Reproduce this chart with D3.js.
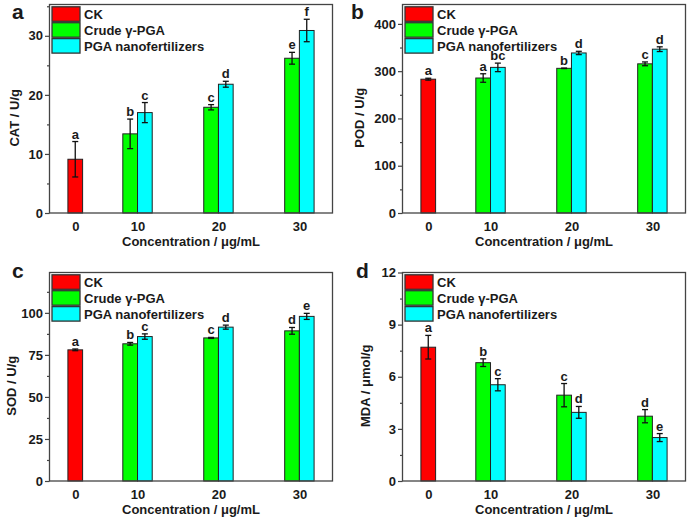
<!DOCTYPE html>
<html>
<head>
<meta charset="utf-8">
<script src="https://cdn.jsdelivr.net/npm/d3@7"></script>
<style>
  body { margin: 0; background: #fff; }
  svg text { font-family: "Liberation Sans", Arial, sans-serif; font-weight: bold; fill: #1a1a1a; }
</style>
</head>
<body>
<div id="chart"></div>
<script>
//categories and legend
var concentrations = [0, 10, 20, 30];
var seriesNames = ["CK", "Crude γ-PGA", "PGA nanofertilizers"];
var seriesColors = ["#ff0000", "#00ff00", "#00ffff"];

//CAT (a) - [CK], [Crude 10,20,30], [PGA 10,20,30]
var catMean = [[9.1], [13.4, 17.9, 26.2], [17.0, 21.8, 30.9]];
var catSd = [[3.0], [2.5, 0.45, 1.0], [1.7, 0.5, 1.9]];
var catSig = [["a"], ["b", "c", "e"], ["c", "d", "f"]];

//POD (b)
var podMean = [[283], [285.5, 306, 315.5], [308, 338.5, 346.5]];
var podSd = [[2], [9, 0.5, 4], [9, 3.5, 5]];
var podSig = [["a"], ["a", "b", "c"], ["bc", "d", "d"]];

//SOD (c)
var sodMean = [[78.0], [81.6, 85.1, 89.3], [85.9, 91.5, 97.9]];
var sodSd = [[0.5], [0.8, 0.3, 2.0], [1.6, 1.2, 1.8]];
var sodSig = [["a"], ["b", "c", "d"], ["c", "d", "e"]];

//MDA (d)
var mdaMean = [[7.7], [6.81, 4.94, 3.73], [5.54, 3.95, 2.50]];
var mdaSd = [[0.68], [0.22, 0.67, 0.38], [0.35, 0.34, 0.23]];
var mdaSig = [["a"], ["b", "c", "d"], ["c", "d", "e"]];

//y axes
var catTicks = [0, 10, 20, 30];
var podTicks = [0, 100, 200, 300, 400];
var sodTicks = [0, 25, 50, 75, 100];
var mdaTicks = [0, 3, 6, 9, 12];

var svg = d3.select("#chart").append("svg")
    .attr("width", 688)
    .attr("height", 520);

var w = 283, h = 208.5, bw = 14.7;

function panel(opt) {
  var g = svg.append("g")
      .attr("transform", "translate(" + opt.left + "," + opt.top + ")");

  //x scale: concentration -> group center
  var x = d3.scaleLinear()
      .domain([0, 10, 30])
      .range([0.091 * w, 0.311 * w, 0.883 * w]);
  var y = d3.scaleLinear().domain(opt.domain).range([h, 0]);

  //build bar list from the arrays
  var bars = [];
  opt.mean.forEach(function(vals, s) {
    vals.forEach(function(v, i) {
      var c = s == 0 ? concentrations[0] : concentrations[i + 1];
      var x0 = s == 0 ? x(c) - bw / 2 : (s == 1 ? x(c) - bw : x(c));
      bars.push({s: s, v: v, sd: opt.sd[s][i], sig: opt.sig[s][i], x0: x0});
    });
  });

  //bars
  g.selectAll("rect.bar").data(bars).enter().append("rect")
      .attr("class", "bar")
      .attr("x", function(d) { return d.x0; })
      .attr("y", function(d) { return y(d.v); })
      .attr("width", bw)
      .attr("height", function(d) { return h - y(d.v); })
      .attr("fill", function(d) { return seriesColors[d.s]; })
      .attr("stroke", "#222")
      .attr("stroke-width", 1);

  //error bars
  var eb = g.selectAll("g.err").data(bars).enter().append("g")
      .attr("stroke", "#111").attr("stroke-width", 1.3);
  eb.append("line")
      .attr("x1", function(d) { return d.x0 + bw / 2; })
      .attr("x2", function(d) { return d.x0 + bw / 2; })
      .attr("y1", function(d) { return y(d.v + d.sd); })
      .attr("y2", function(d) { return y(d.v - d.sd); });
  [1, -1].forEach(function(k) {
    eb.append("line")
        .attr("x1", function(d) { return d.x0 + bw / 2 - 3; })
        .attr("x2", function(d) { return d.x0 + bw / 2 + 3; })
        .attr("y1", function(d) { return y(d.v + k * d.sd); })
        .attr("y2", function(d) { return y(d.v + k * d.sd); });
  });

  //significance letters
  g.selectAll("text.sig").data(bars).enter().append("text")
      .attr("x", function(d) { return d.x0 + bw / 2; })
      .attr("y", function(d) { return y(d.v + d.sd) - 3; })
      .attr("text-anchor", "middle")
      .attr("font-size", 13)
      .text(function(d) { return d.sig; });

  //y axis, major ticks with labels and minor ticks between
  var minor = [];
  for (var i = 0; i < opt.ticks.length; i++) {
    var m = opt.ticks[i] + (opt.ticks[1] - opt.ticks[0]) / 2;
    if (m < opt.domain[1]) minor.push(m);
  }
  var ya = g.append("g")
      .call(d3.axisLeft(y).tickValues(opt.ticks).tickSize(4.5).tickPadding(2).tickSizeOuter(0));
  ya.select(".domain").remove();
  ya.selectAll("line").attr("stroke", "#444").attr("stroke-width", 1.2);
  ya.selectAll("text").attr("font-size", 13).attr("fill", "#1a1a1a")
      .attr("font-family", "Liberation Sans, Arial, sans-serif");
  g.append("g")
      .call(d3.axisLeft(y).tickValues(minor).tickSize(2.5).tickFormat(""))
      .call(function(s) { s.select(".domain").remove(); })
      .selectAll("line").attr("stroke", "#444").attr("stroke-width", 1.2);

  //x tick labels (no tick marks)
  var xa = g.append("g")
      .attr("transform", "translate(0," + h + ")")
      .call(d3.axisBottom(x).tickValues(concentrations).tickSize(0).tickPadding(9).tickFormat(d3.format("d")));
  xa.select(".domain").remove();
  xa.selectAll("text").attr("font-size", 13).attr("fill", "#1a1a1a")
      .attr("font-family", "Liberation Sans, Arial, sans-serif");

  //frame
  g.append("rect")
      .attr("width", w).attr("height", h)
      .attr("fill", "none")
      .attr("stroke", "#444")
      .attr("stroke-width", 1.3);

  //legend
  var lg = g.selectAll("g.leg").data(seriesNames).enter().append("g")
      .attr("transform", function(d, i) { return "translate(2.5," + (2.3 + i * 15.9) + ")"; });
  lg.append("rect")
      .attr("width", 28).attr("height", 14.5)
      .attr("fill", function(d, i) { return seriesColors[i]; })
      .attr("stroke", "#333").attr("stroke-width", 1.3);
  lg.append("text")
      .attr("x", 32).attr("y", 12)
      .attr("font-size", 13)
      .text(function(d) { return d; });

  //axis titles
  g.append("text")
      .attr("x", w / 2).attr("y", h + 32.5)
      .attr("text-anchor", "middle")
      .attr("font-size", 13)
      .text("Concentration / μg/mL");
  g.append("text")
      .attr("transform", "translate(" + (opt.ytx - opt.left) + "," + (h / 2 + 9) + ") rotate(-90)")
      .attr("text-anchor", "middle")
      .attr("dominant-baseline", "middle")
      .attr("font-size", 13)
      .text(opt.ytitle);

  //panel letter
  svg.append("text")
      .attr("x", opt.lx).attr("y", opt.ly)
      .attr("font-size", 21)
      .text(opt.letter);
}

panel({left: 49.5, top: 4.5, domain: [0, 35.3], ticks: catTicks, mean: catMean, sd: catSd, sig: catSig,
       ytitle: "CAT / U/g", ytx: 16, letter: "a", lx: 12, ly: 19});
panel({left: 402.5, top: 4.5, domain: [0, 441], ticks: podTicks, mean: podMean, sd: podSd, sig: podSig,
       ytitle: "POD / U/g", ytx: 361, letter: "b", lx: 351, ly: 19});
panel({left: 49.5, top: 272.5, domain: [0, 124], ticks: sodTicks, mean: sodMean, sd: sodSd, sig: sodSig,
       ytitle: "SOD / U/g", ytx: 12.5, letter: "c", lx: 12, ly: 278});
panel({left: 402.5, top: 272.5, domain: [0, 12], ticks: mdaTicks, mean: mdaMean, sd: mdaSd, sig: mdaSig,
       ytitle: "MDA / μmol/g", ytx: 367, letter: "d", lx: 356, ly: 278});
</script>
</body>
</html>
